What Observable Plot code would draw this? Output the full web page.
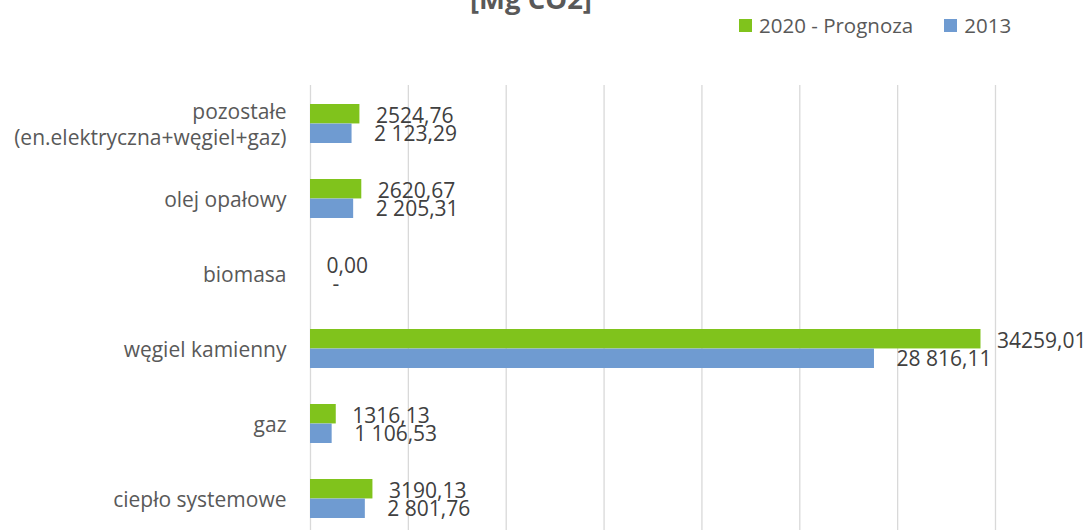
<!DOCTYPE html>
<html>
<head>
<meta charset="utf-8">
<script src="https://cdn.jsdelivr.net/npm/d3@7"></script>
<script src="https://cdn.jsdelivr.net/npm/@observablehq/plot@0.6"></script>
<style>
  html, body { margin: 0; padding: 0; background: #fff; width: 1089px; height: 530px; overflow: hidden; }
  #wrap { position: relative; width: 1089px; height: 530px; font-family: "Open Sans", sans-serif; }
  #title { position: absolute; left: 0; width: 1062px; top: -15px; text-align: center; font-weight: bold; font-size: 27.5px; line-height: 27.5px; color: #595959; }
  #legend { position: absolute; left: 739px; top: 12px; display: flex; align-items: center; font-size: 20.5px; line-height: 26px; color: #595959; }
  #legend .item { display: flex; align-items: center; margin-right: 31px; }
  #legend .sw { width: 13px; height: 13px; margin-right: 7px; }
  #chart { position: absolute; left: 0; top: 0; }
</style>
</head>
<body>
<div id="wrap">
  <div id="chart"></div>
  <div id="title">[Mg CO2]</div>
  <div id="legend"></div>
</div>
<script>
const categories = ["pozostałe\n(en.elektryczna+węgiel+gaz)", "olej opałowy", "biomasa", "węgiel kamienny", "gaz", "ciepło systemowe"];
const values2020 = [2524.76, 2620.67, 0.00, 34259.01, 1316.13, 3190.13];
const values2013 = [2123.29, 2205.31, 0, 28816.11, 1106.53, 2801.76];
const series = ["2020 - Prognoza", "2013"];
const colors = ["#80c31c", "#6f9bd1"];
const xTicks = [0, 5000, 10000, 15000, 20000, 25000, 30000, 35000];

const rows2020 = categories.map((c, i) => ({cat: c, value: values2020[i]}));
const rows2013 = categories.map((c, i) => ({cat: c, value: values2013[i]}));

const plLocale = d3.formatLocale({decimal: ",", thousands: " ", grouping: [3], currency: ["", ""]});
const fmtGroup = plLocale.format(",.2f");
const fmtPlain = plLocale.format(".2f");

const halfBand = 19.55;

const chart = Plot.plot({
  width: 1089,
  height: 530,
  marginLeft: 310,
  marginRight: 94,
  marginTop: 85,
  marginBottom: 0,
  style: {fontFamily: "'Open Sans', sans-serif", background: "transparent"},
  x: {domain: [0, 35000], axis: null},
  y: {domain: categories, range: [85.4, 536.6], paddingInner: 0.48, paddingOuter: 0.24, axis: null},
  marks: [
    Plot.ruleX(xTicks, {x: d => d, stroke: "#d9d9d9", strokeWidth: 1.3}),
    Plot.barX(rows2020, {x: "value", y: "cat", fill: colors[0], insetBottom: halfBand}),
    Plot.barX(rows2013, {x: "value", y: "cat", fill: colors[1], insetTop: halfBand}),
    Plot.text(rows2020, {x: "value", y: "cat", text: d => fmtPlain(d.value), textAnchor: "start", dx: 16, dy: -8, fontSize: 21, fill: "#404040"}),
    Plot.text(rows2013, {x: "value", y: "cat", text: d => d.value === 0 ? "-" : fmtGroup(d.value), textAnchor: "start", dx: 22, dy: 10, fontSize: 21, fill: "#404040"}),
    Plot.text(categories, {x: 0, y: d => d, text: d => d, textAnchor: "end", dx: -24, fontSize: 21, lineHeight: 1.2, fill: "#595959"})
  ]
});
document.getElementById("chart").appendChild(chart);

const legend = document.getElementById("legend");
series.forEach((s, i) => {
  const item = document.createElement("div");
  item.className = "item";
  const sw = document.createElement("span");
  sw.className = "sw";
  sw.style.background = colors[i];
  const label = document.createElement("span");
  label.textContent = s;
  item.appendChild(sw);
  item.appendChild(label);
  legend.appendChild(item);
});
</script>
</body>
</html>
